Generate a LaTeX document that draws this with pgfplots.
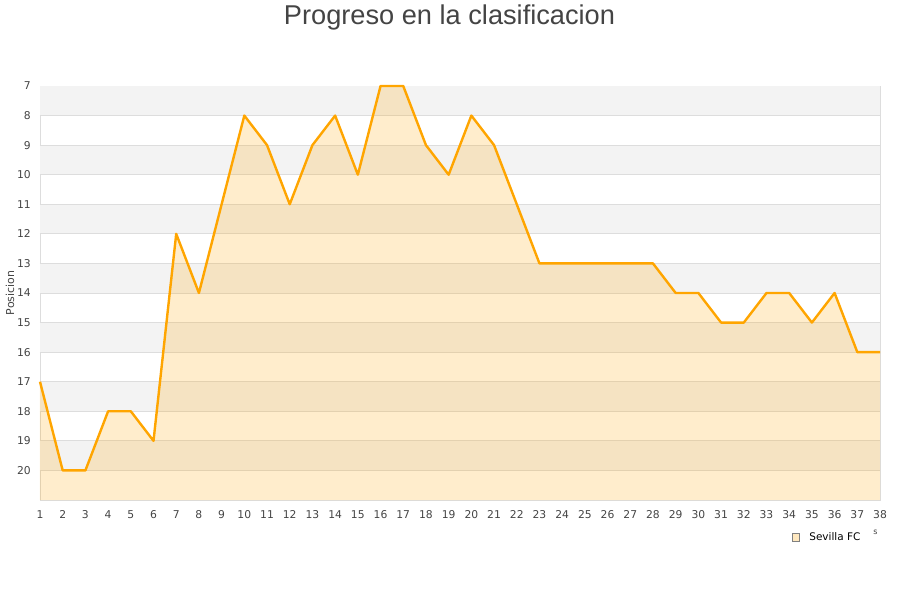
\documentclass[border=0pt]{standalone}
\usepackage{pgfplots}
\pgfplotsset{compat=1.18}
\usepackage{fontspec}
\setmainfont{DejaVu Sans}
\newfontfamily\titlefont{Liberation Sans}
\definecolor{txt}{HTML}{444444}
\definecolor{gridc}{HTML}{DDDDDD}
\definecolor{band}{HTML}{F3F3F3}
\definecolor{lineor}{HTML}{FFA500}
\pgfplotstableread{
x y
1 17
2 20
3 20
4 18
5 18
6 19
7 12
8 14
9 11
10 8
11 9
12 11
13 9
14 8
15 10
16 7
17 7
18 9
19 10
20 8
21 9
22 11
23 13
24 13
25 13
26 13
27 13
28 13
29 14
30 14
31 15
32 15
33 14
34 14
35 15
36 14
37 16
38 16
}\datatable
\pgfplotstableread{
x y
1 21
1 17
2 20
3 20
4 18
5 18
6 19
7 12
8 14
9 11
10 8
11 9
12 11
13 9
14 8
15 10
16 7
17 7
18 9
19 10
20 8
21 9
22 11
23 13
24 13
25 13
26 13
27 13
28 13
29 14
30 14
31 15
32 15
33 14
34 14
35 15
36 14
37 16
38 16
38 21
}\areatable
\begin{document}
\begin{tikzpicture}
\path[use as bounding box] (0,0) rectangle (900bp,600bp);
\node[anchor=base, text=txt, font=\titlefont\fontsize{27.3}{30}\selectfont, inner sep=0pt] at (449.5bp,575bp) {Progreso en la clasificacion};
\node[anchor=center, text=txt, font=\fontsize{8}{9}\selectfont, inner sep=0pt] at (875.5bp,68bp) {s};
\begin{axis}[
  at={(40bp,100bp)}, anchor=south west,
  scale only axis, width=840bp, height=414bp,
  xmin=1, xmax=38, ymin=7, ymax=21,
  y dir=reverse,
  xtick={1,...,38}, ytick={7,...,20},
  major tick length=0pt,
  axis line style={draw=gridc},
  /pgf/number format/assume math mode=true,
  ticklabel style={font=\fontsize{10.8}{12}\selectfont, text=txt, inner sep=0pt},
  xticklabel style={anchor=north, yshift=-10bp},
  yticklabel style={anchor=east, xshift=-9bp},
  ylabel={Posicion},
  ylabel style={at={(axis description cs:-0.0357,0.5)}, anchor=center, rotate=0, font=\fontsize{11}{12}\selectfont, text=txt, inner sep=0pt},
  legend style={at={(axis description cs:0.895,-0.0894)}, anchor=west, draw=none, fill=none, inner sep=0pt, font=\fontsize{10.5}{12}\selectfont, nodes={inner sep=0pt, anchor=west}},
  legend image code/.code={\draw[draw=gray, fill=lineor!25] (0bp,-4bp) rectangle (7bp,4bp);},
  clip=false,
]
\pgfplotsinvokeforeach{7,9,11,13,15,17,19}{
  \fill[band] (axis cs:1,#1) rectangle (axis cs:38,#1+1);
}
\pgfplotsinvokeforeach{8,...,20}{
  \draw[gridc, line width=0.8bp] (axis cs:1,#1) -- (axis cs:38,#1);
}
\addplot[draw=none, fill=lineor, fill opacity=0.2, forget plot] table[x=x,y=y] {\areatable} -- cycle;
\addplot[lineor, line width=2.4bp, line join=round, forget plot] table[x=x,y=y] {\datatable};
\addlegendimage{}
\addlegendentry{\hspace{10bp}Sevilla FC}
\end{axis}
\end{tikzpicture}
\end{document}
